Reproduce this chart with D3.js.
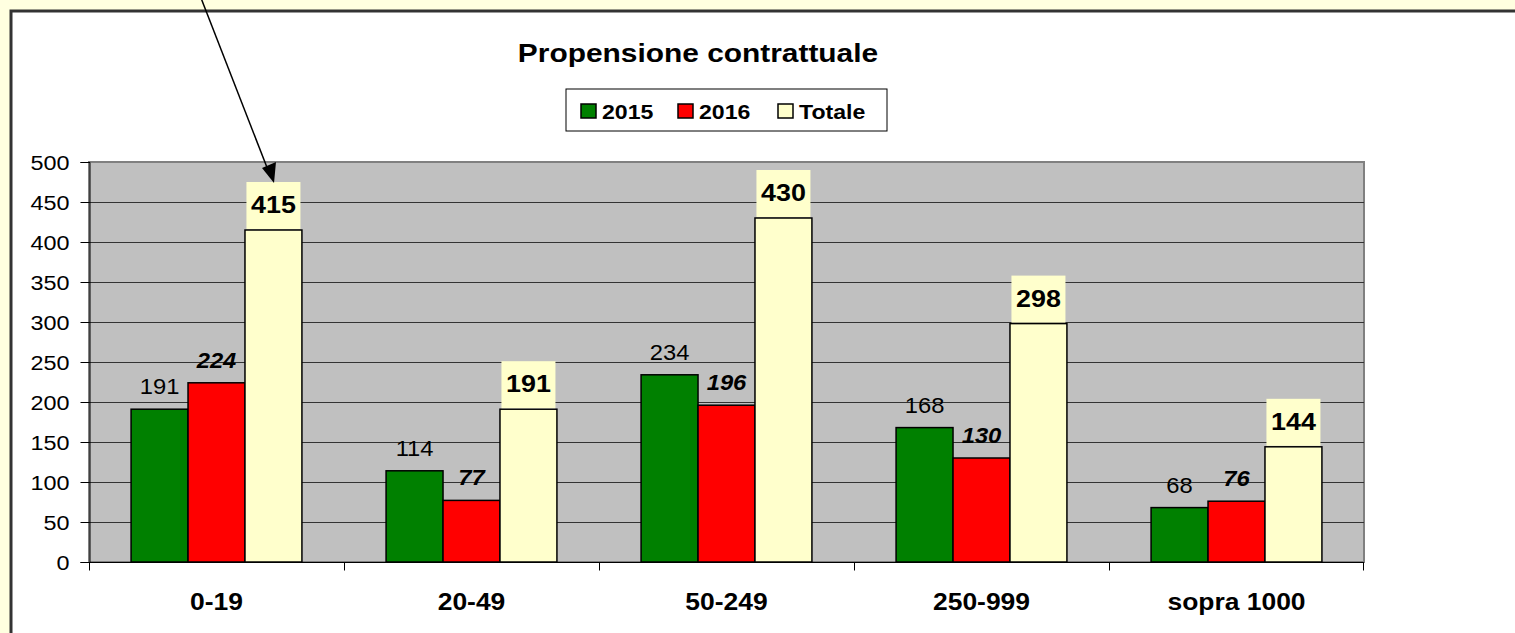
<!doctype html>
<html>
<head>
<meta charset="utf-8">
<title>Propensione contrattuale</title>
<script src="https://cdn.jsdelivr.net/npm/d3@7"></script>
<style>
  body { margin: 0; background: #ffffe0; }
  text { font-family: "Liberation Sans", Arial, sans-serif; }
</style>
</head>
<body>
<script>
// data
var categories = ["0-19", "20-49", "50-249", "250-999", "sopra 1000"];
var series = ["2015", "2016", "Totale"];
var values2015 = [191, 114, 234, 168, 68];
var values2016 = [224, 77, 196, 130, 76];
var valuesTot = [415, 191, 430, 298, 144];
var yTicks = [0, 50, 100, 150, 200, 250, 300, 350, 400, 450, 500];

var colors = {"2015": "#008000", "2016": "#ff0000", "Totale": "#ffffcc"};
var allValues = {"2015": values2015, "2016": values2016, "Totale": valuesTot};

var W = 1515, H = 633;
var svg = d3.select("body").append("svg")
    .attr("width", W).attr("height", H);

// the original text is a bit wider than it is tall
function wideText(g, x, y, sx, str) {
    return g.append("text")
        .attr("transform", "translate(" + x + "," + y + ") scale(" + sx + ",1)")
        .text(str);
}

// white chart frame
svg.append("rect")
    .attr("x", 11).attr("y", 11)
    .attr("width", W + 10).attr("height", H + 10)
    .attr("fill", "#fff")
    .attr("stroke", "#333").attr("stroke-width", 3);

var plot = {left: 89, top: 162, right: 1364, bottom: 562};

var x0 = d3.scaleBand().domain(categories)
    .range([plot.left, plot.right]).paddingInner(0).paddingOuter(0);
// bars take up about 2/3 of each group
var groupW = x0.bandwidth() * 0.67;
var x1 = d3.scaleBand().domain(series)
    .range([(x0.bandwidth() - groupW) / 2, (x0.bandwidth() + groupW) / 2]);

var y = d3.scaleLinear().domain([0, 500]).range([plot.bottom, plot.top]);

// plot background
svg.append("rect")
    .attr("x", plot.left).attr("y", plot.top)
    .attr("width", plot.right - plot.left).attr("height", plot.bottom - plot.top)
    .attr("fill", "#c0c0c0")
    .attr("stroke", "#808080").attr("stroke-width", 2);

// gridlines
svg.append("g").selectAll("line")
    .data(yTicks.slice(1, -1))
    .enter().append("line")
    .attr("x1", plot.left).attr("x2", plot.right)
    .attr("y1", function(d) { return y(d) + 0.5; })
    .attr("y2", function(d) { return y(d) + 0.5; })
    .attr("stroke", "#333").attr("stroke-width", 1);

// y axis
var yAxis = svg.append("g")
    .attr("transform", "translate(" + (plot.left + 0.5) + ",0)")
    .call(d3.axisLeft(y).tickValues(yTicks).tickSize(9));
yAxis.selectAll("text")
    .attr("x", 0).attr("dy", "0.36em")
    .attr("transform", "translate(-20,0) scale(1.2,1)")
    .style("font-size", "19.5px").attr("fill", "#000");
yAxis.selectAll("line").attr("stroke", "#000");
yAxis.select(".domain").attr("stroke", "#000");

// x axis
var xAxisG = svg.append("g")
    .attr("transform", "translate(0," + (plot.bottom + 0.5) + ")");
xAxisG.append("line")
    .attr("x1", plot.left).attr("x2", plot.right)
    .attr("stroke", "#000");
xAxisG.selectAll("line.tk")
    .data(categories.concat(["end"]))
    .enter().append("line").attr("class", "tk")
    .attr("x1", function(d, i) { return i < categories.length ? x0(d) + 0.5 : plot.right - 0.5; })
    .attr("x2", function(d, i) { return i < categories.length ? x0(d) + 0.5 : plot.right - 0.5; })
    .attr("y1", 0).attr("y2", 8)
    .attr("stroke", "#000");
categories.forEach(function(c) {
    wideText(xAxisG, x0(c) + x0.bandwidth() / 2, 47, 1.15, c)
        .attr("text-anchor", "middle")
        .style("font-size", "23px").style("font-weight", "bold");
});

// bars
var rows = [];
categories.forEach(function(c, i) {
    series.forEach(function(s) {
        rows.push({cat: c, s: s, v: allValues[s][i]});
    });
});

svg.append("g").selectAll("rect")
    .data(rows)
    .enter().append("rect")
    .attr("x", function(d) { return x0(d.cat) + x1(d.s); })
    .attr("y", function(d) { return y(d.v); })
    .attr("width", x1.bandwidth())
    .attr("height", function(d) { return y(0) - y(d.v); })
    .attr("fill", function(d) { return colors[d.s]; })
    .attr("stroke", "#000").attr("stroke-width", 1.5);

// value labels
var labels = svg.append("g");
rows.forEach(function(d) {
    var cx = x0(d.cat) + x1(d.s) + x1.bandwidth() / 2;
    if (d.s == "Totale") {
        labels.append("rect")
            .attr("x", cx - 27).attr("y", y(d.v) - 48)
            .attr("width", 54).attr("height", 47)
            .attr("fill", "#ffffcc");
        wideText(labels, cx, y(d.v) - 17, 1.12, d.v)
            .attr("text-anchor", "middle")
            .style("font-size", "24px").style("font-weight", "bold");
    } else {
        wideText(labels, cx, y(d.v) - 15, 1.08, d.v)
            .attr("text-anchor", "middle")
            .style("font-size", "22px")
            .style("font-weight", d.s == "2016" ? "bold" : "normal")
            .style("font-style", d.s == "2016" ? "italic" : "normal");
    }
});

// title
wideText(svg, 698, 62, 1.15, "Propensione contrattuale")
    .attr("text-anchor", "middle")
    .style("font-size", "26px").style("font-weight", "bold");

// legend
var lg = svg.append("g").attr("transform", "translate(566,89)");
lg.append("rect")
    .attr("width", 321).attr("height", 42)
    .attr("fill", "#fff").attr("stroke", "#000");
var legX = [15, 112, 212];
series.forEach(function(s, i) {
    lg.append("rect")
        .attr("x", legX[i]).attr("y", 15)
        .attr("width", 15).attr("height", 14)
        .attr("fill", colors[s]).attr("stroke", "#000").attr("stroke-width", 1.5);
    wideText(lg, legX[i] + 21, 30, 1.1, s)
        .style("font-size", "21px").style("font-weight", "bold");
});

// annotation arrow pointing at the 415 label
svg.append("line")
    .attr("x1", 201).attr("y1", -2)
    .attr("x2", 268).attr("y2", 170)
    .attr("stroke", "#000").attr("stroke-width", 1.5);
svg.append("path")
    .attr("d", "M274,183 L262,168 L276,162 Z")
    .attr("fill", "#000");
</script>
</body>
</html>
